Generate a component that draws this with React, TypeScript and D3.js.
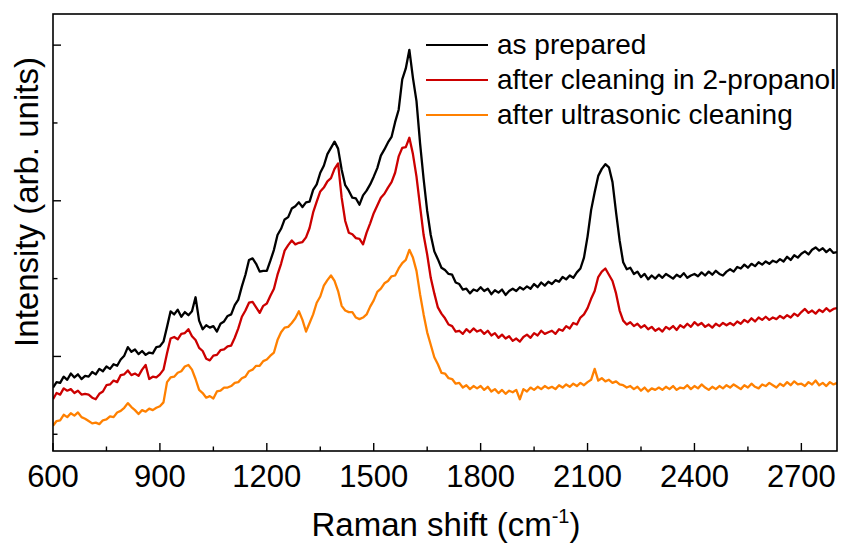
import React from "react";
import * as d3 from "d3";

// Raman shift sampling grid (cm^-1), 10 cm^-1 steps
const WAVENUMBERS: number[] = d3.range(600, 2801, 10);

// Intensity (arb. units) for each sample state
const AS_PREPARED: number[] = [
  0.60, 0.67, 0.66, 0.74, 0.70, 0.78, 0.73, 0.77, 0.71, 0.75,
  0.74, 0.80, 0.77, 0.84, 0.81, 0.87, 0.84, 0.90, 0.88, 0.96,
  1.01, 1.12, 1.06, 1.09, 1.03, 1.07, 1.02, 1.05, 1.04, 1.12,
  1.13, 1.19, 1.38, 1.58, 1.54, 1.60, 1.51, 1.57, 1.53, 1.58,
  1.76, 1.46, 1.35, 1.40, 1.37, 1.39, 1.32, 1.42, 1.45, 1.52,
  1.54, 1.66, 1.73, 1.90, 2.05, 2.24, 2.26, 2.19, 2.09, 2.10,
  2.10, 2.23, 2.37, 2.56, 2.64, 2.76, 2.79, 2.90, 2.93, 2.98,
  2.92, 2.98, 2.99, 3.14, 3.21, 3.36, 3.45, 3.60, 3.68, 3.76,
  3.67, 3.40, 3.20, 3.13, 3.04, 3.03, 2.95, 3.07, 3.13, 3.21,
  3.31, 3.42, 3.58, 3.66, 3.75, 3.82, 4.01, 4.17, 4.56, 4.70,
  4.94, 4.58, 4.28, 3.74, 3.28, 2.87, 2.56, 2.35, 2.25, 2.14,
  2.11, 2.06, 2.05, 1.95, 1.93, 1.86, 1.87, 1.81, 1.86, 1.84,
  1.89, 1.84, 1.87, 1.80, 1.85, 1.82, 1.86, 1.79, 1.84, 1.87,
  1.84, 1.89, 1.86, 1.90, 1.87, 1.93, 1.89, 1.95, 1.91, 1.96,
  1.93, 1.98, 1.96, 2.02, 1.99, 2.04, 2.01, 2.08, 2.13, 2.27,
  2.54, 2.88, 3.11, 3.32, 3.41, 3.47, 3.43, 3.24, 2.85, 2.49,
  2.21, 2.12, 2.14, 2.06, 2.09, 2.02, 2.06, 1.99, 2.04, 2.00,
  2.05, 2.01, 2.06, 2.03, 2.00, 2.05, 2.02, 2.07, 2.01, 2.04,
  2.06, 2.03, 2.08, 2.04, 2.09, 2.05, 2.10, 2.06, 2.04, 2.09,
  2.12, 2.09, 2.15, 2.13, 2.18, 2.14, 2.19, 2.16, 2.21, 2.18,
  2.22, 2.19, 2.23, 2.21, 2.25, 2.22, 2.28, 2.24, 2.30, 2.27,
  2.32, 2.35, 2.31, 2.37, 2.40, 2.36, 2.39, 2.34, 2.38, 2.33, 2.34,
];

const AFTER_PROPANOL: number[] = [
  0.45, 0.53, 0.51, 0.59, 0.56, 0.58, 0.53, 0.56, 0.51, 0.52,
  0.51, 0.47, 0.45, 0.52, 0.55, 0.63, 0.64, 0.69, 0.67, 0.76,
  0.77, 0.82, 0.76, 0.78, 0.75, 0.83, 0.89, 0.71, 0.74, 0.73,
  0.77, 0.83, 1.04, 1.23, 1.25, 1.22, 1.29, 1.30, 1.35, 1.26,
  1.21, 1.11, 1.07, 0.97, 0.95, 1.01, 1.02, 1.08, 1.09, 1.13,
  1.14, 1.24, 1.36, 1.51, 1.59, 1.69, 1.70, 1.63, 1.56, 1.65,
  1.68, 1.78, 1.87, 2.05, 2.19, 2.36, 2.43, 2.49, 2.44, 2.46,
  2.47, 2.53, 2.65, 2.85, 2.99, 3.12, 3.17, 3.25, 3.29, 3.41,
  3.48, 3.04, 2.74, 2.59, 2.57, 2.52, 2.51, 2.44, 2.59, 2.71,
  2.84, 2.94, 3.04, 3.09, 3.17, 3.24, 3.36, 3.57, 3.68, 3.69,
  3.81, 3.60, 3.31, 2.93, 2.56, 2.31, 2.01, 1.81, 1.63, 1.55,
  1.49, 1.41, 1.39, 1.32, 1.33, 1.29, 1.35, 1.31, 1.36, 1.32,
  1.34, 1.29, 1.33, 1.27, 1.30, 1.24, 1.28, 1.23, 1.26, 1.20,
  1.23, 1.19, 1.25, 1.28, 1.24, 1.30, 1.27, 1.33, 1.29, 1.31,
  1.33, 1.29, 1.35, 1.33, 1.39, 1.36, 1.43, 1.41, 1.50, 1.54,
  1.62, 1.74, 1.84, 2.02, 2.09, 2.13, 2.05, 1.97, 1.81, 1.59,
  1.46, 1.41, 1.44, 1.39, 1.42, 1.37, 1.40, 1.35, 1.38, 1.33,
  1.36, 1.32, 1.38, 1.35, 1.39, 1.34, 1.40, 1.37, 1.42, 1.38,
  1.44, 1.40, 1.43, 1.38, 1.41, 1.37, 1.42, 1.39, 1.43, 1.40,
  1.43, 1.40, 1.45, 1.42, 1.47, 1.44, 1.49, 1.45, 1.50, 1.47,
  1.51, 1.47, 1.50, 1.48, 1.52, 1.49, 1.53, 1.50, 1.55, 1.52,
  1.57, 1.61, 1.56, 1.59, 1.55, 1.60, 1.57, 1.62, 1.58, 1.61, 1.62,
];

const AFTER_ULTRASONIC: number[] = [
  0.11, 0.17, 0.18, 0.25, 0.22, 0.27, 0.24, 0.28, 0.22, 0.20,
  0.17, 0.14, 0.15, 0.13, 0.18, 0.19, 0.23, 0.22, 0.28, 0.30,
  0.34, 0.40, 0.35, 0.31, 0.26, 0.31, 0.29, 0.33, 0.31, 0.34,
  0.36, 0.41, 0.67, 0.73, 0.74, 0.79, 0.81, 0.87, 0.89, 0.83,
  0.71, 0.57, 0.53, 0.47, 0.49, 0.46, 0.55, 0.56, 0.60, 0.60,
  0.62, 0.66, 0.67, 0.72, 0.74, 0.81, 0.83, 0.88, 0.88, 0.94,
  0.96, 1.01, 1.05, 1.21, 1.31, 1.37, 1.38, 1.43, 1.49, 1.58,
  1.47, 1.32, 1.43, 1.54, 1.69, 1.77, 1.91, 1.98, 2.04, 1.97,
  1.84, 1.65, 1.59, 1.57, 1.57, 1.50, 1.48, 1.50, 1.54, 1.64,
  1.72, 1.83, 1.87, 1.94, 1.97, 2.03, 2.04, 2.13, 2.20, 2.24,
  2.37, 2.27, 2.10, 1.80, 1.54, 1.31, 1.15, 0.99, 0.90, 0.79,
  0.78, 0.72, 0.71, 0.65, 0.66, 0.60, 0.63, 0.58, 0.62, 0.59,
  0.62, 0.57, 0.61, 0.55, 0.58, 0.53, 0.57, 0.52, 0.56, 0.54,
  0.57, 0.45, 0.58, 0.55, 0.60, 0.57, 0.61, 0.58, 0.62, 0.59,
  0.61, 0.58, 0.63, 0.60, 0.64, 0.61, 0.65, 0.62, 0.66, 0.63,
  0.67, 0.70, 0.84, 0.69, 0.72, 0.68, 0.70, 0.66, 0.68, 0.64,
  0.63, 0.60, 0.62, 0.58, 0.61, 0.56, 0.60, 0.55, 0.59, 0.57,
  0.60, 0.57, 0.61, 0.58, 0.62, 0.57, 0.60, 0.59, 0.63, 0.58,
  0.62, 0.59, 0.64, 0.60, 0.57, 0.61, 0.58, 0.62, 0.59, 0.63,
  0.60, 0.64, 0.61, 0.58, 0.63, 0.60, 0.65, 0.61, 0.59, 0.64,
  0.62, 0.66, 0.63, 0.60, 0.65, 0.62, 0.67, 0.63, 0.68, 0.64,
  0.65, 0.62, 0.67, 0.64, 0.69, 0.63, 0.66, 0.62, 0.67, 0.64, 0.66,
];

const SERIES_NAMES = ["as prepared", "after cleaning in 2-propanol", "after ultrasonic cleaning"];
const SERIES_VALUES = [AS_PREPARED, AFTER_PROPANOL, AFTER_ULTRASONIC];
const SERIES_COLORS = ["#000000", "#cc0000", "#ff8000"];

const X_MAJOR_TICKS = [600, 900, 1200, 1500, 1800, 2100, 2400, 2700];
const X_MINOR_TICKS = [750, 1050, 1350, 1650, 1950, 2250, 2550];
const Y_MAJOR_TICKS = [1, 3, 5];
const Y_MINOR_TICKS = [0, 2, 4];

const WIDTH = 845;
const HEIGHT = 548;
const PLOT = { left: 53, right: 837, top: 14, bottom: 451 };
const FONT = "'Liberation Sans', Arial, Helvetica, sans-serif";

export default function App() {
  const x = d3.scaleLinear().domain([600, 2800]).range([PLOT.left, PLOT.right]);
  const y = d3.scaleLinear().domain([-0.215, 5.4]).range([PLOT.bottom, PLOT.top]);

  const line = d3
    .line<[number, number]>()
    .x((d) => x(d[0]))
    .y((d) => y(d[1]));

  const paths = SERIES_VALUES.map((vals) =>
    line(WAVENUMBERS.map((w, i) => [w, vals[i]] as [number, number]).filter((d) => d[1] !== undefined))
  );

  return (
    <svg
      width={WIDTH}
      height={HEIGHT}
      style={{ position: "absolute", left: 0, top: 0, background: "#fff" }}
      fontFamily={FONT}
    >
      <defs>
        <clipPath id="plot-clip">
          <rect x={PLOT.left} y={PLOT.top} width={PLOT.right - PLOT.left} height={PLOT.bottom - PLOT.top} />
        </clipPath>
      </defs>

      {/* spectra, drawn back to front */}
      <g clipPath="url(#plot-clip)" fill="none" strokeWidth={2.3} strokeLinejoin="round">
        {paths
          .map((d, i) => <path key={i} d={d ?? ""} stroke={SERIES_COLORS[i]} />)
          .reverse()}
      </g>

      {/* frame */}
      <rect
        x={PLOT.left}
        y={PLOT.top}
        width={PLOT.right - PLOT.left}
        height={PLOT.bottom - PLOT.top}
        fill="none"
        stroke="#000"
        strokeWidth={1.6}
      />

      {/* inward ticks */}
      <g stroke="#000" strokeWidth={1.4}>
        {X_MAJOR_TICKS.map((t) => (
          <line key={"xM" + t} x1={x(t)} x2={x(t)} y1={PLOT.bottom} y2={PLOT.bottom - 8} />
        ))}
        {X_MINOR_TICKS.map((t) => (
          <line key={"xm" + t} x1={x(t)} x2={x(t)} y1={PLOT.bottom} y2={PLOT.bottom - 4.5} />
        ))}
        {Y_MAJOR_TICKS.map((t) => (
          <line key={"yM" + t} x1={PLOT.left} x2={PLOT.left + 8} y1={y(t)} y2={y(t)} />
        ))}
        {Y_MINOR_TICKS.map((t) => (
          <line key={"ym" + t} x1={PLOT.left} x2={PLOT.left + 4.5} y1={y(t)} y2={y(t)} />
        ))}
      </g>

      {/* x tick labels */}
      <g fontSize={31} textAnchor="middle" fill="#000">
        {X_MAJOR_TICKS.map((t) => (
          <text key={"xl" + t} x={x(t)} y={487}>
            {t}
          </text>
        ))}
      </g>

      {/* axis titles */}
      <text x={446} y={536} fontSize={33} textAnchor="middle" fill="#000">
        Raman shift (cm
        <tspan fontSize={20} dy={-13}>
          -1
        </tspan>
        <tspan dy={13}>)</tspan>
      </text>
      <text
        transform="translate(38,202) rotate(-90)"
        fontSize={33}
        textAnchor="middle"
        fill="#000"
      >
        Intensity (arb. units)
      </text>

      {/* legend */}
      <g>
        {SERIES_NAMES.map((name, i) => (
          <g key={name} transform={`translate(426,${45 + i * 35})`}>
            <line x1={0} x2={62} y1={0} y2={0} stroke={SERIES_COLORS[i]} strokeWidth={2.2} />
            <text x={71} y={9} fontSize={28} fill="#000">
              {name}
            </text>
          </g>
        ))}
      </g>
    </svg>
  );
}
